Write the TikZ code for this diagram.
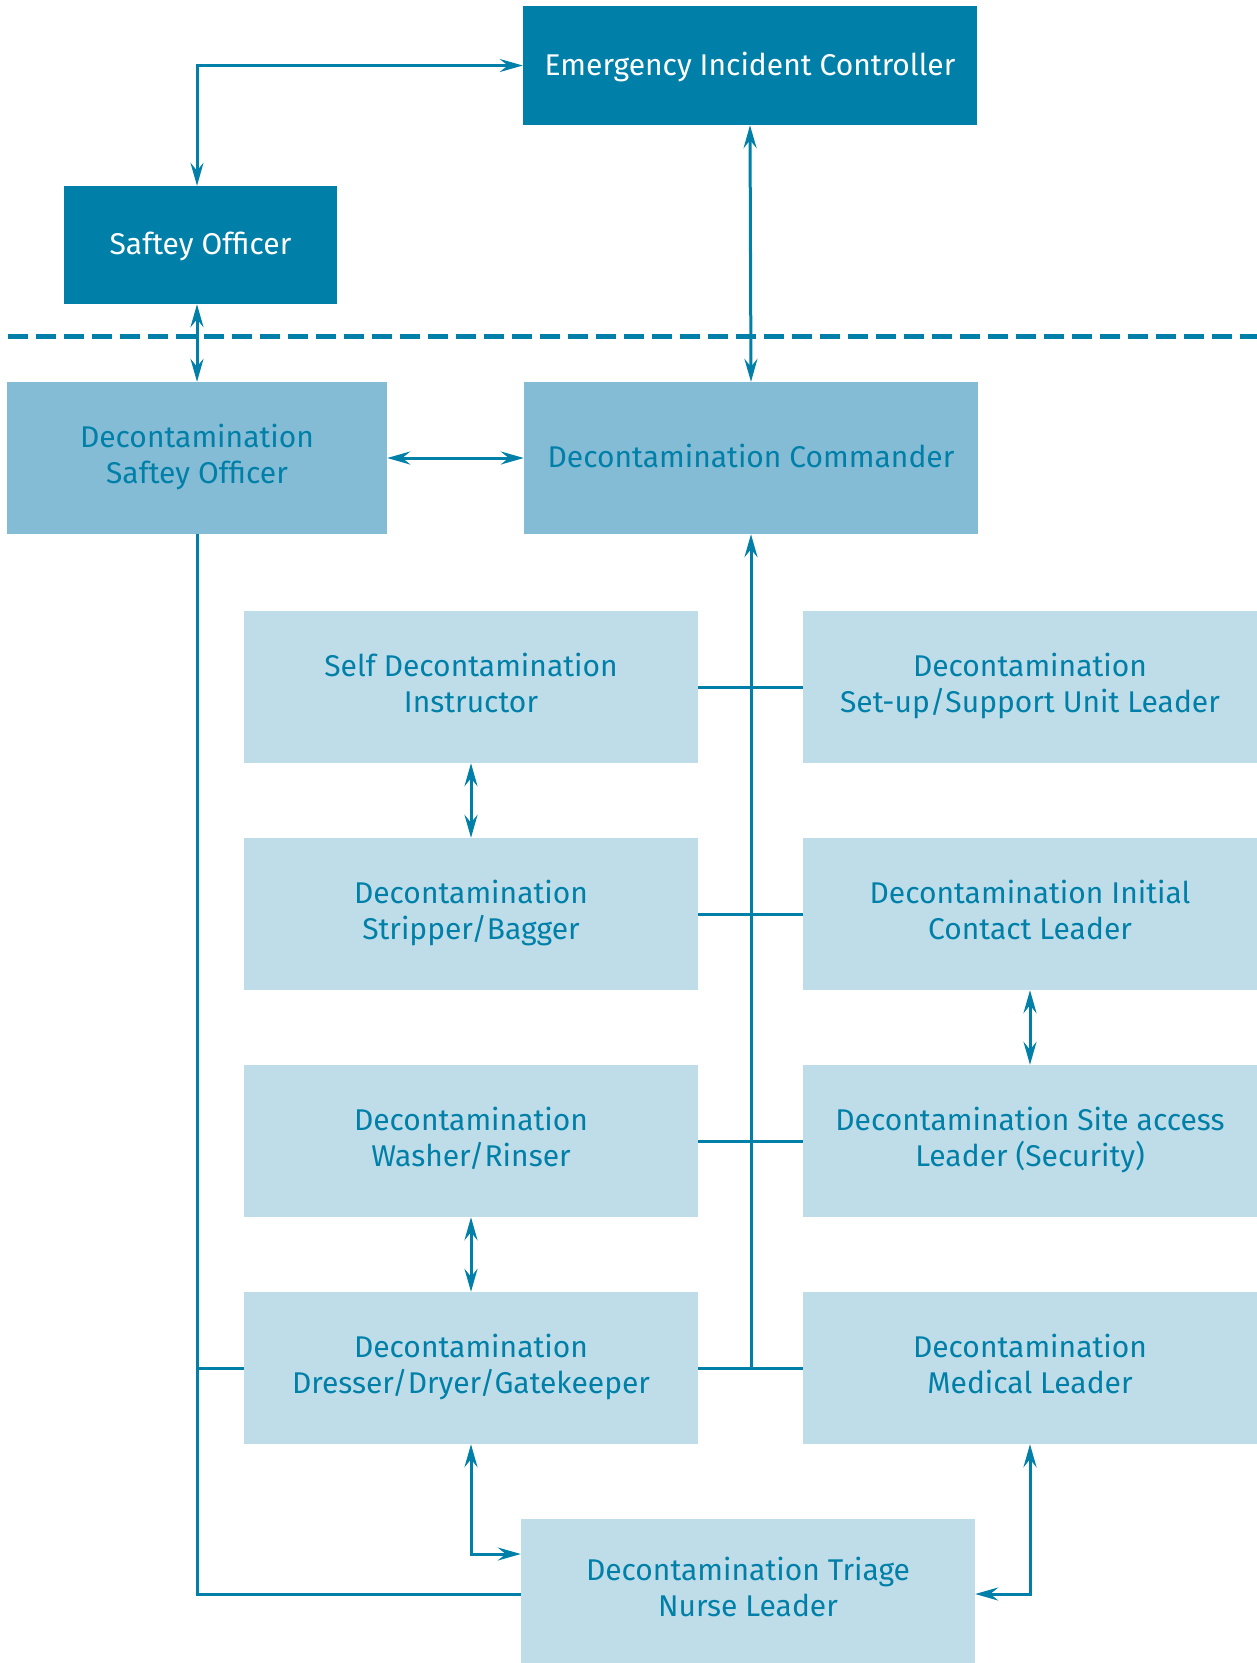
\documentclass[tikz,border=0pt]{standalone}
\usepackage{fontspec}
\setmainfont{Fira Sans}
\usetikzlibrary{arrows.meta,calc}
\definecolor{teal1}{RGB}{0,128,168}
\definecolor{midbox}{RGB}{132,188,214}
\definecolor{lightbox}{RGB}{191,221,233}
\newcommand\boxstrut{\rule[-8.3pt]{0pt}{36pt}}
\tikzset{
  boxfont/.style={font=\fontsize{30}{36}\selectfont, execute at begin node=\boxstrut, execute at end node=\boxstrut},
  darkbox/.style={fill=teal1, text=white, minimum width=#1, inner sep=0pt, align=center, boxfont},
  medbox/.style={fill=midbox, text=teal1, minimum width=#1, minimum height=152pt, inner sep=0pt, align=center, boxfont},
  litebox/.style={fill=lightbox, text=teal1, minimum width=454pt, minimum height=152pt, inner sep=0pt, align=center, boxfont},
  conn/.style={draw=teal1, line width=3pt},
  tip/.tip={Stealth[length=23pt,width=13pt,inset=8pt]},
  dbl/.style={conn, {tip}-{tip}},
  sgl/.style={conn, -{tip}},
}
\begin{document}
\begin{tikzpicture}[x=1pt,y=-1pt]
\useasboundingbox (0,0) rectangle (1257,1663);
% dashed divider
\draw[teal1, line width=5pt, dash pattern=on 20pt off 8pt] (8,336) -- (1257,336);
% boxes
\node[darkbox=454pt, minimum height=119pt] (eic) at (750,65.5) {Emergency Incident Controller};
\node[darkbox=273pt, minimum height=118pt] (so) at (200.5,245) {Saftey Officer};
\node[medbox=380pt] (dso) at (197,458) {Decontamination\\Saftey Officer};
\node[medbox=454pt] (dc) at (751,458) {Decontamination Commander};
\node[litebox] (l1) at (471,687) {Self Decontamination\\Instructor};
\node[litebox] (r1) at (1030,687) {Decontamination\\Set-up/Support Unit Leader};
\node[litebox] (l2) at (471,914) {Decontamination\\Stripper/Bagger};
\node[litebox] (r2) at (1030,914) {Decontamination Initial\\Contact Leader};
\node[litebox] (l3) at (471,1141) {Decontamination\\Washer/Rinser};
\node[litebox] (r3) at (1030,1141) {Decontamination Site access\\Leader (Security)};
\node[litebox] (l4) at (471,1368) {Decontamination\\Dresser/Dryer/Gatekeeper};
\node[litebox] (r4) at (1030,1368) {Decontamination\\Medical Leader};
\node[litebox, minimum height=144pt] (tri) at (748,1591) {Decontamination Triage\\Nurse Leader};
% connectors
\draw[dbl] (eic.west) -| (dso.north |- so.north);
\draw[dbl] (dso.north |- so.south) -- (dso.north);
\draw[dbl] (eic.south) -- (dc.north);
\draw[dbl] (dso.east) -- (dc.west);
\coordinate (trunk) at (dc.south |- l4.east);
\draw[sgl] (trunk) -- (dc.south);
\draw[conn] (l1.east) -- (r1.west);
\draw[conn] (l2.east) -- (r2.west);
\draw[conn] (l3.east) -- (r3.west);
\draw[conn] (l4.east) -- (r4.west);
\draw[conn] (dso.south) |- ([yshift=-3pt]tri.west);
\draw[conn] (dso.south |- l4.west) -- (l4.west);
\draw[dbl] (l1.south) -- (l2.north);
\draw[dbl] (l3.south) -- (l4.north);
\draw[dbl] (r2.south) -- (r3.north);
\draw[dbl] (l4.south) |- ([yshift=37pt]tri.west);
\draw[dbl] (r4.south) |- ([yshift=-3pt]tri.east);
\end{tikzpicture}
\end{document}
